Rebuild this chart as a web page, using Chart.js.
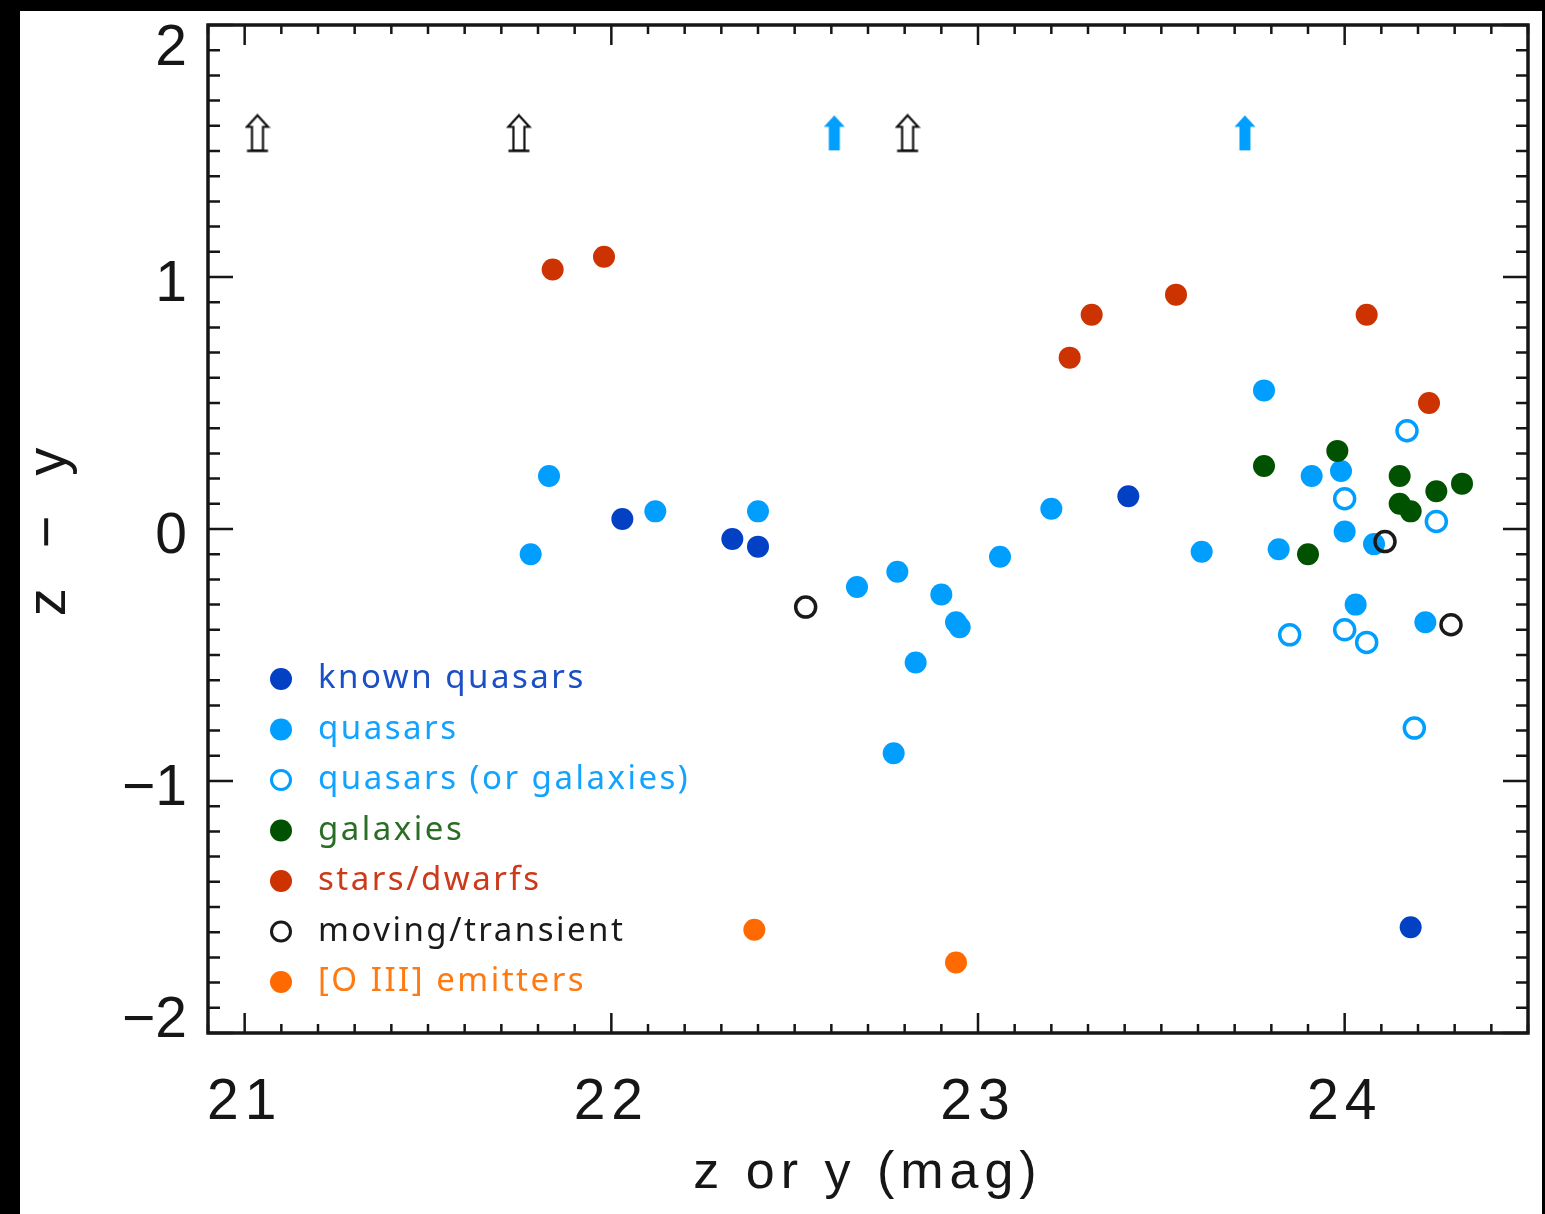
<!DOCTYPE html>
<html>
<head>
<meta charset="utf-8">
<title>z - y versus z or y</title>
<script src="https://cdn.jsdelivr.net/npm/chart.js@4.4.1/dist/chart.umd.min.js"></script>
<style>
  html, body { margin: 0; padding: 0; background: #000; }
  body { width: 1545px; height: 1214px; position: relative; overflow: hidden; }
  #wrap { position: absolute; left: 20px; top: 11px; width: 1522px; height: 1203px; background: #fff; }
  canvas { display: block; }
</style>
</head>
<body>
<div id="wrap"><canvas id="chart" width="1522" height="1203"></canvas></div>
<script>
// axis ticks
const xTicks = [21, 22, 23, 24];
const yTicks = [-2, -1, 0, 1, 2];
const yTickLabels = ["\u22122", "\u22121", "0", "1", "2"];

// magnitudes (z or y) and colours (z - y) per class
const knownQuasarX = [22.03, 22.33, 22.40, 23.41, 24.18];
const knownQuasarY = [0.04, -0.04, -0.07, 0.13, -1.58];

const quasarX = [21.83, 21.78, 22.12, 22.40, 22.67, 22.78, 22.90, 22.94, 22.95, 22.83, 22.77,
                 23.06, 23.20, 23.61, 23.78, 23.82, 23.91, 23.99, 24.00, 24.03, 24.08, 24.22];
const quasarY = [0.21, -0.10, 0.07, 0.07, -0.23, -0.17, -0.26, -0.37, -0.39, -0.53, -0.89,
                 -0.11, 0.08, -0.09, 0.55, -0.08, 0.21, 0.23, -0.01, -0.30, -0.06, -0.37];

const quasarOrGalaxyX = [24.17, 24.00, 24.25, 23.85, 24.00, 24.06, 24.19];
const quasarOrGalaxyY = [0.39, 0.12, 0.03, -0.42, -0.40, -0.45, -0.79];

const galaxyX = [23.78, 23.98, 24.15, 24.15, 24.18, 24.25, 24.32, 23.90];
const galaxyY = [0.25, 0.31, 0.21, 0.10, 0.07, 0.15, 0.18, -0.10];

const starX = [21.84, 21.98, 23.25, 23.31, 23.54, 24.06, 24.23];
const starY = [1.03, 1.08, 0.68, 0.85, 0.93, 0.85, 0.50];

const movingX = [22.53, 24.11, 24.29];
const movingY = [-0.31, -0.05, -0.38];

const oiiiX = [22.39, 22.94];
const oiiiY = [-1.59, -1.72];

// lower limits shown as arrows
const openLimitX = [21.035, 21.748, 22.808];
const openLimitY = [1.57, 1.57, 1.57];
const filledLimitX = [22.608, 23.728];
const filledLimitY = [1.57, 1.57];

const toPoints = (xs, ys) => xs.map((x, i) => ({ x: x, y: ys[i] }));

const INK = "#161616";
const LABEL_FONT = "'Liberation Sans', 'Noto Sans', sans-serif";

function arrowImage(color, filled) {
  const c = document.createElement("canvas");
  c.width = 26;
  c.height = 40;
  const g = c.getContext("2d");
  g.beginPath();
  g.moveTo(13, 2);
  g.lineTo(23.5, 13.5);
  g.lineTo(18.5, 13.5);
  g.lineTo(18.5, 37);
  g.lineTo(7.5, 37);
  g.lineTo(7.5, 13.5);
  g.lineTo(2.5, 13.5);
  g.closePath();
  if (filled) {
    g.fillStyle = color;
    g.fill();
  } else {
    g.strokeStyle = color;
    g.lineWidth = 2.2;
    g.stroke();
    g.beginPath();
    g.moveTo(2.5, 37.5);
    g.lineTo(23.5, 37.5);
    g.lineWidth = 2.5;
    g.stroke();
  }
  return c;
}

function dots(label, xs, ys, color, textColor, order) {
  return {
    label: label, data: toPoints(xs, ys), order: order, inLegend: true, hollow: false, textColor: textColor,
    backgroundColor: color, borderColor: color, borderWidth: 0, pointRadius: 11
  };
}

function rings(label, xs, ys, color, textColor, order) {
  return {
    label: label, data: toPoints(xs, ys), order: order, inLegend: true, hollow: true, textColor: textColor,
    backgroundColor: "rgba(0,0,0,0)", borderColor: color, borderWidth: 3.5, pointRadius: 10
  };
}

const datasets = [
  dots("known quasars", knownQuasarX, knownQuasarY, "#0341c4", "#1b4fc6", 7),
  dots("quasars", quasarX, quasarY, "#009fff", "#12a2ff", 6),
  rings("quasars (or galaxies)", quasarOrGalaxyX, quasarOrGalaxyY, "#009fff", "#12a2ff", 5),
  dots("galaxies", galaxyX, galaxyY, "#005200", "#2a6e26", 4),
  dots("stars/dwarfs", starX, starY, "#cc3300", "#cc3a1a", 3),
  rings("moving/transient", movingX, movingY, "#1a1a1a", "#1a1a1a", 2),
  dots("[O III] emitters", oiiiX, oiiiY, "#ff6a00", "#ff7a10", 1),
  { label: "limits", data: toPoints(openLimitX, openLimitY), order: 0, inLegend: false,
    pointStyle: arrowImage("#111", false), pointRadius: 13 },
  { label: "quasar limits", data: toPoints(filledLimitX, filledLimitY), order: 0, inLegend: false,
    pointStyle: arrowImage("#009fff", true), pointRadius: 13 }
];

// frame with inward ticks on all four sides, plus y tick labels
const frameTicks = {
  id: "frameTicks",
  beforeDraw(chart) {
    chart.ctx.letterSpacing = "6px";
  },
  afterDatasetsDraw(chart) {
    const { ctx, chartArea: a, scales: { x, y } } = chart;
    ctx.save();
    ctx.letterSpacing = "0px";
    ctx.strokeStyle = INK;
    ctx.lineWidth = 2.5;
    ctx.beginPath();
    for (let k = Math.ceil(x.min * 10 - 1e-6); k <= Math.floor(x.max * 10 + 1e-6); k++) {
      const px = x.getPixelForValue(k / 10);
      const len = k % 10 === 0 ? 20 : 9;
      ctx.moveTo(px, a.bottom);
      ctx.lineTo(px, a.bottom - len);
      ctx.moveTo(px, a.top);
      ctx.lineTo(px, a.top + len);
    }
    for (let k = Math.ceil(y.min * 10 - 1e-6); k <= Math.floor(y.max * 10 + 1e-6); k++) {
      const py = y.getPixelForValue(k / 10);
      const len = k % 10 === 0 ? 25 : 12;
      ctx.moveTo(a.left, py);
      ctx.lineTo(a.left + len, py);
      ctx.moveTo(a.right, py);
      ctx.lineTo(a.right - len, py);
    }
    ctx.stroke();
    ctx.lineWidth = 3.5;
    ctx.strokeRect(a.left, a.top, a.right - a.left, a.bottom - a.top);

    ctx.fillStyle = INK;
    ctx.font = "57px " + LABEL_FONT;
    ctx.textAlign = "right";
    ctx.textBaseline = "alphabetic";
    yTicks.forEach((v, i) => {
      const py = y.getPixelForValue(v);
      const mid = Math.min(Math.max(py + 4, a.top + 20), a.bottom - 16);
      ctx.fillText(yTickLabels[i], a.left - 21, mid + 20.4);
    });
    ctx.restore();
  }
};

// legend drawn inside the plot, lower left, text in series colour
const insideLegend = {
  id: "insideLegend",
  afterDatasetsDraw(chart) {
    const { ctx, chartArea } = chart;
    const items = chart.data.datasets.filter(d => d.inLegend);
    const step = 50.5;
    const x0 = chartArea.left + 73;
    const lastRow = chartArea.bottom - 51;
    ctx.save();
    ctx.font = "33px 'Noto Sans', sans-serif";
    ctx.letterSpacing = "2.5px";
    ctx.textAlign = "left";
    ctx.textBaseline = "alphabetic";
    items.forEach((d, i) => {
      const yy = lastRow - (items.length - 1 - i) * step;
      ctx.beginPath();
      if (d.hollow) {
        ctx.arc(x0, yy, 9.5, 0, Math.PI * 2);
        ctx.lineWidth = 3;
        ctx.strokeStyle = d.borderColor;
        ctx.stroke();
      } else {
        ctx.arc(x0, yy, 11, 0, Math.PI * 2);
        ctx.fillStyle = d.backgroundColor;
        ctx.fill();
      }
      ctx.fillStyle = d.textColor;
      ctx.fillText(d.label, x0 + 37, yy + 9);
    });
    ctx.restore();
  }
};

const chart = new Chart(document.getElementById("chart"), {
  type: "scatter",
  data: { datasets: datasets },
  plugins: [frameTicks, insideLegend],
  options: {
    responsive: false,
    animation: false,
    events: [],
    layout: { padding: { top: 11, right: 13, bottom: 0, left: 0 } },
    plugins: { legend: { display: false }, tooltip: { enabled: false } },
    scales: {
      x: {
        type: "linear",
        position: "bottom",
        min: 20.9,
        max: 24.5,
        grid: { display: false, drawTicks: false, tickLength: 0 },
        border: { display: false },
        afterBuildTicks: (scale) => { scale.ticks = xTicks.map(v => ({ value: v })); },
        afterFit: (scale) => { scale.height = 181; },
        ticks: {
          color: INK,
          font: { family: LABEL_FONT, size: 57 },
          padding: 36,
          maxRotation: 0,
          autoSkip: false,
          callback: (v) => String(v)
        },
        title: {
          display: true,
          text: "z or y (mag)",
          color: INK,
          font: { family: LABEL_FONT, size: 52, lineHeight: 1.2 },
          padding: { top: 0, bottom: 9 }
        }
      },
      y: {
        type: "linear",
        position: "left",
        min: -2,
        max: 2,
        grid: { display: false, drawTicks: false, tickLength: 0 },
        border: { display: false },
        afterFit: (scale) => { scale.width = 188; },
        ticks: { display: false },
        title: {
          display: true,
          text: "z\u2002\u2212\u2002y",
          color: INK,
          font: { family: LABEL_FONT, size: 56, lineHeight: 1.05 },
          padding: { top: 0, bottom: 0 }
        }
      }
    }
  }
});
</script>
</body>
</html>
